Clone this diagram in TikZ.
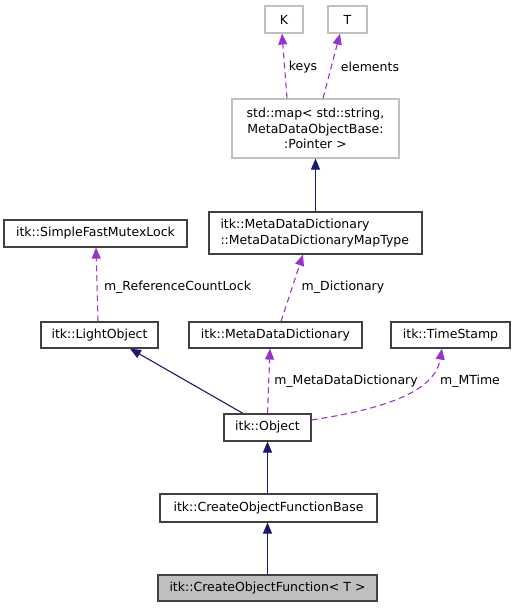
\documentclass[tikz,border=0pt]{standalone}
\usepackage{fontspec}
\setmainfont{DejaVu Sans}
\usetikzlibrary{arrows.meta}
\definecolor{edgeblue}{HTML}{191970}
\definecolor{edgepurple}{HTML}{9A32CD}
\definecolor{boxdark}{HTML}{404040}
\definecolor{boxlight}{HTML}{BFBFBF}
\begin{document}
\begin{tikzpicture}[x=1pt,y=-1pt,
  every node/.style={font=\fontsize{12.5}{15.6}\selectfont, inner sep=0pt, text=black},
  cls/.style={draw=boxdark, line width=1.2pt, fill=white, minimum width=#1, align=center},
  ext/.style={draw=boxlight, line width=1.2pt, fill=white, minimum width=#1, align=center},
  inh/.style={draw=edgeblue, line width=1.1pt, -{Triangle[length=11pt,width=9pt]}, color=edgeblue},
  dep/.style={draw=edgepurple, line width=1.1pt, dash pattern=on 6pt off 4pt, -{Triangle[length=11pt,width=9pt]}, color=edgepurple},
  lbl/.style={font=\fontsize{12.5}{15}\selectfont}]
\useasboundingbox (0,0) rectangle (515,608);
% nodes
\node[ext=38pt, minimum height=27pt] (K) at (284,19.5) {K};
\node[ext=39pt, minimum height=27pt] (T) at (347.5,19.5) {T};
\node[ext=167pt, minimum height=59pt] (map) at (315.5,128.5) {std::map\textless{} std::string,\\ MetaDataObjectBase:\\:Pointer \textgreater{}};
\node[cls=213pt, minimum height=42pt, align=left, text width=190pt] (maptype) at (315.5,233) {itk::MetaDataDictionary\\::MetaDataDictionaryMapType};
\node[cls=183pt, minimum height=27pt] (lock) at (95.5,233.5) {itk::SimpleFastMutexLock};
\node[cls=117pt, minimum height=26pt] (light) at (99.5,335) {itk::LightObject};
\node[cls=173pt, minimum height=26pt] (mdd) at (275.5,335) {itk::MetaDataDictionary};
\node[cls=119pt, minimum height=26pt] (ts) at (450.5,335) {itk::TimeStamp};
\node[cls=87pt, minimum height=27pt] (obj) at (267.5,427.5) {itk::Object};
\node[cls=217pt, minimum height=28pt] (base) at (268.5,508) {itk::CreateObjectFunctionBase};
\node[cls=219pt, minimum height=26pt, fill=boxlight] (cof) at (267.5,588) {itk::CreateObjectFunction\textless{} T \textgreater{}};
% edges
\draw[dep] ([xshift=-28.5pt]map.north) -- ([xshift=-2pt]K.south);
\draw[dep] ([xshift=7.5pt]map.north) -- ([xshift=-7.5pt]T.south);
\draw[inh] (maptype.north) -- (map.south);
\draw[dep] ([xshift=5.5pt]mdd.north) -- ([xshift=-12.5pt]maptype.south);
\draw[dep] ([xshift=-1.5pt]light.north) -- ([xshift=0.5pt]lock.south);
\draw[inh] ([xshift=-24.5pt]obj.north) -- ([xshift=30.5pt]light.south);
\draw[dep] (obj.north) -- ([xshift=-5.5pt]mdd.south);
\draw[dep] ([yshift=7.5pt]obj.east) .. controls (390,408) and (435,390) .. ([xshift=-8.5pt]ts.south);
\draw[inh] ([xshift=-1pt]base.north) -- (obj.south);
\draw[inh] (cof.north) -- ([xshift=-1pt]base.south);
% labels
\node[lbl] (lkeys) at (303,67) {keys};
\node[lbl] (lelem) at (370,67) {elements};
\node[lbl] (lref) at (177.5,287) {m\_ReferenceCountLock};
\node[lbl] (ldict) at (343,287) {m\_Dictionary};
\node[lbl] (lmdd) at (346,381) {m\_MetaDataDictionary};
\node[lbl] (lmt) at (470,381) {m\_MTime};
\end{tikzpicture}
\end{document}
